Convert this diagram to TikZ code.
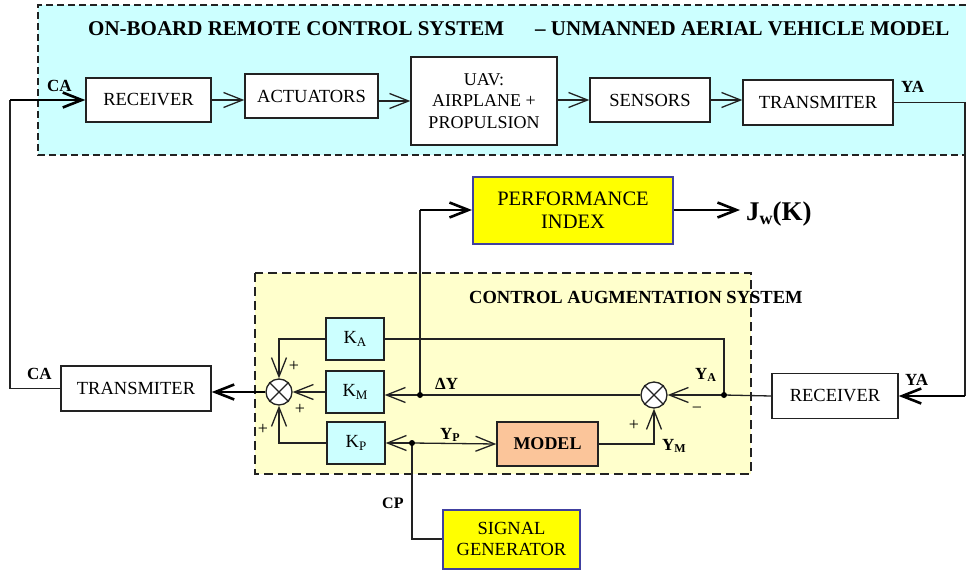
\documentclass[tikz,border=0pt]{standalone}
\usepackage{fontspec}
\setmainfont{Liberation Serif}
\usetikzlibrary{arrows.meta}
\newcommand\mysub[2]{\raisebox{-0.35ex}{\fontsize{#1}{#1}\selectfont #2}}
\definecolor{cyanbg}{HTML}{CCFFFF}
\definecolor{ylbg}{HTML}{FFFFCC}
\definecolor{ylbox}{HTML}{FFFF00}
\definecolor{blbd}{HTML}{4040A0}
\definecolor{orbox}{HTML}{FBC59A}
\definecolor{ln}{HTML}{222222}
\begin{document}
\begin{tikzpicture}[x=1pt,y=-1pt,
  blk/.style={draw=ln,line width=1.4pt,fill=white,align=center,inner sep=0pt,font=\fontsize{18.5}{21}\selectfont},
  kblk/.style={blk,fill=cyanbg,minimum width=58pt,minimum height=42pt},
  ylblk/.style={blk,fill=ylbox,draw=blbd,line width=2pt},
  sumnode/.style={circle,draw=ln,line width=1.3pt,fill=white,minimum size=26pt,inner sep=0pt},
  wire/.style={draw=ln,line width=1.3pt},
  thkwire/.style={draw=ln,line width=1.8pt},
  arr/.style={wire,-{Straight Barb[length=19pt,width=15pt,line width=1.3pt]}},
  thkarr/.style={draw=black,line width=2.6pt,-{Straight Barb[length=19pt,width=15pt,line width=2.6pt]}},
  lbl/.style={font=\fontsize{17}{17}\selectfont\bfseries,anchor=base west,inner sep=0pt},
  sgn/.style={font=\fontsize{18}{18}\selectfont,inner sep=0pt},
  dot/.style={circle,fill=black,inner sep=0pt,minimum size=6pt}
]
\useasboundingbox (0,0) rectangle (966,570);
\fill[white] (0,0) rectangle (966,570);
% outer frames
\fill[cyanbg] (38,5) rectangle (966,155);
\draw[ln,line width=1.2pt,dash pattern=on 7pt off 4pt] (966,5) -- (38,5) -- (38,155) -- (966,155);
\draw[fill=ylbg,draw=ln,line width=1.8pt,dash pattern=on 9pt off 5pt] (255,273) rectangle (751,474);

% titles
\node[font=\fontsize{21}{21}\selectfont\bfseries,anchor=base west,inner sep=0pt] (t1) at (88,35) {ON-BOARD REMOTE CONTROL SYSTEM};
\node[font=\fontsize{21}{21}\selectfont\bfseries,anchor=base west,inner sep=0pt] (t2) at (535,35) {– UNMANNED AERIAL VEHICLE MODEL};
\node[font=\fontsize{18.5}{18.5}\selectfont\bfseries,anchor=base west,inner sep=0pt] (t3) at (469,303) {CONTROL AUGMENTATION SYSTEM};

% blocks
\node[blk,minimum width=125pt,minimum height=44pt] (rx1) at (148.5,100) {RECEIVER};
\node[blk,minimum width=133pt,minimum height=44pt] (act) at (311.5,96) {ACTUATORS};
\node[blk,minimum width=146pt,minimum height=88pt,font=\fontsize{18}{21.5}\selectfont] (uav) at (484,101) {UAV:\\AIRPLANE +\\PROPULSION};
\node[blk,minimum width=120pt,minimum height=44pt] (sens) at (650,100) {SENSORS};
\node[blk,minimum width=150pt,minimum height=45pt] (tx1) at (818,102.5) {TRANSMITER};
\node[blk,minimum width=150pt,minimum height=45pt] (tx2) at (136,388.5) {TRANSMITER};
\node[blk,minimum width=126pt,minimum height=45pt] (rx2) at (835,396) {RECEIVER};
\node[ylblk,minimum width=200pt,minimum height=67pt,font=\fontsize{20.5}{23}\selectfont] (pi) at (573,210) {PERFORMANCE\\INDEX};
\node[ylblk,minimum width=137pt,minimum height=59pt] (sg) at (511.5,539) {SIGNAL\\GENERATOR};
\node[kblk] (ka) at (355,339) {K\mysub{13}{A}};
\node[kblk] (km) at (355,392) {K\mysub{13}{M}};
\node[kblk] (kp) at (356,443) {K\mysub{13}{P}};
\node[blk,fill=orbox,minimum width=101pt,minimum height=44pt,font=\fontsize{18}{18}\selectfont\bfseries] (model) at (547.5,444) {MODEL};
\node[sumnode] (sum1) at (279,392) {};
\node[sumnode] (sum2) at (654,395) {};
\draw[wire] (sum1.north east) -- (sum1.south west) (sum1.north west) -- (sum1.south east);
\draw[wire] (sum2.north east) -- (sum2.south west) (sum2.north west) -- (sum2.south east);

% coordinates
\coordinate (caTop) at (10,100);
\coordinate (rTop) at (965,102.5);
\coordinate (rBot) at (965,396);
\coordinate (jA) at (724,395);
\coordinate (jD) at (420,395);
\coordinate (jP) at (412,443);
\coordinate (cPI) at (420,210);
\coordinate (cJ) at (740,210);

% top chain
\draw[arr] (rx1.east) -- (rx1.east -| act.west);
\draw[arr] (act.east |- uav.west) -- (uav.west);
\draw[arr] (uav.east |- sens.west) -- (sens.west);
\draw[arr] (sens.east) -- (sens.east -| tx1.west);

% outer loop
\draw[thkwire] (tx2.west) -| (caTop);
\draw[thkarr] (caTop) -- (rx1.west);
\draw[thkwire] (tx1.east) -- (rTop) -- (rBot);
\draw[thkarr] (rBot) -- (rx2.east);
\draw[thkarr] (sum1.west) -- (sum1.west -| tx2.east);

% CAS internals
\draw[wire] (rx2.west) -- (jA);
\draw[arr] (jA) -- (sum2.east);
\draw[wire] (jA) |- (ka.east);
\draw[arr] (ka.west) -| (sum1.north);
\draw[arr] (km.west) -- (sum1.east);
\draw[arr] (kp.west) -| (sum1.south);
\draw[arr] (sum2.west) -- (sum2.west -| km.east);
\draw[thkwire] (jD) -- (cPI);
\draw[thkarr] (cPI) -- (pi.west);
\draw[thkarr] (pi.east) -- (cJ);
\draw[arr] (jP) -- (kp.east);
\draw[arr] (jP) -- (model.west);
\draw[wire] (jP) |- (sg.west);
\draw[arr] (model.east) -| (sum2.south);
\node[dot] (dA) at (jA) {};
\node[dot] (dD) at (jD) {};
\node[dot] (dP) at (jP) {};

% labels
\node[lbl] (lca1) at (47,91) {CA};
\node[lbl] (lya1) at (901,92) {YA};
\node[lbl] (lca2) at (27,379) {CA};
\node[lbl] (lya2) at (905,385) {YA};
\node[lbl,font=\fontsize{16}{16}\selectfont\bfseries] (lcp) at (382,508) {CP};
\node[lbl] (ldy) at (435,389) {ΔY};
\node[lbl] (lyp) at (440,439) {Y\mysub{12}{P}};
\node[lbl] (lya) at (695,379) {Y\mysub{12}{A}};
\node[lbl] (lym) at (662,450) {Y\mysub{12}{M}};
\node[lbl,font=\fontsize{27}{27}\selectfont\bfseries] (ljw) at (746,220) {J\mysub{18}{w}(K)};
\node[sgn] (s1) at (294,366) {+};
\node[sgn] (s2) at (300,409) {+};
\node[sgn] (s3) at (263,429) {+};
\node[sgn] (s4) at (634,425) {+};
\node[sgn] (s5) at (697,410) {−};
\end{tikzpicture}
\end{document}
